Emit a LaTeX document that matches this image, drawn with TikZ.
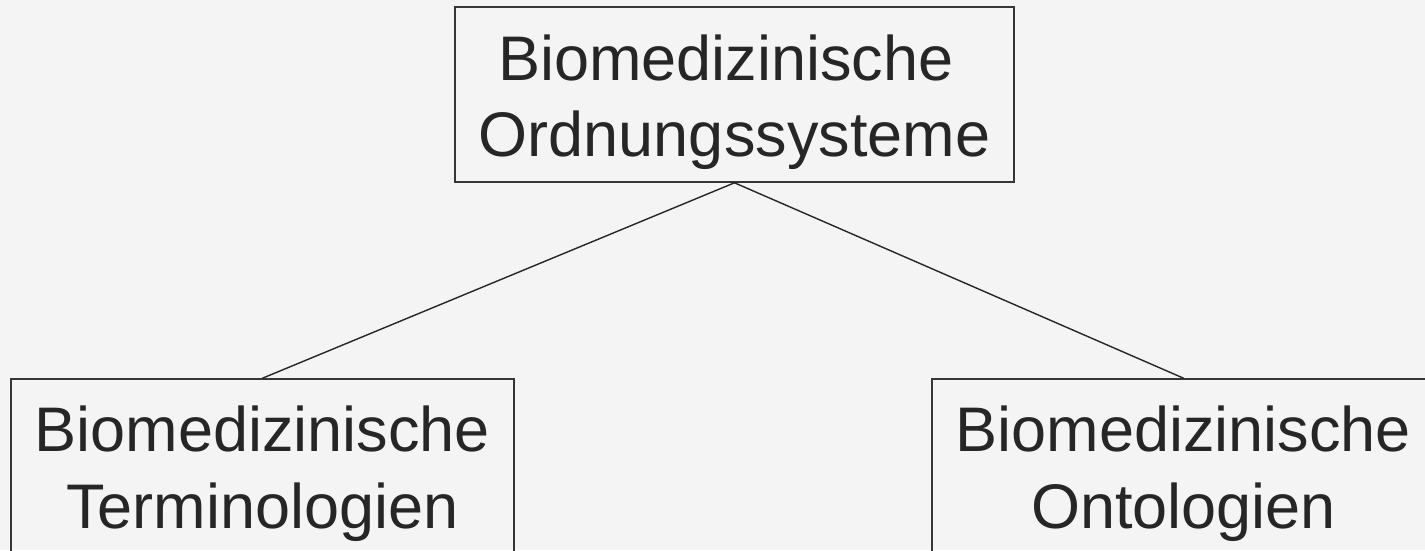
\documentclass[tikz,border=0pt]{standalone}
\usepackage{fontspec}
\setmainfont{Liberation Sans}
\definecolor{bgc}{HTML}{F4F4F4}
\definecolor{ink}{HTML}{262626}
\definecolor{edge}{HTML}{363636}
\begin{document}
\begin{tikzpicture}[x=1pt,y=1pt,
  box/.style={draw=edge, line width=1.6pt, fill=none, minimum width=#1, minimum height=175pt, inner sep=0pt},
  lbl/.style={anchor=base, align=center, inner sep=0pt, text=ink, font=\fontsize{63}{76.5}\selectfont},
  conn/.style={draw=ink, line width=1.4pt}]
\fill[bgc] (0,0) rectangle (1425,550);
\clip (0,0) rectangle (1425,550);
\node[box=559pt] (top) at (734.5,455.5) {};
\node[box=503pt] (left) at (262.5,83.5) {};
\node[box=503pt] (right) at (1183.5,83.5) {};
\node[lbl] (topText) at (734.5,393) {Biomedizinische\hspace*{17pt}\\Ordnungssysteme};
\node[lbl] (leftText) at (262.5,22) {Biomedizinische\\Terminologien};
\node[lbl] (rightText) at (1183.5,22) {Biomedizinische\\Ontologien};
\draw[conn] (top.south) -- (left.north);
\draw[conn] (top.south) -- (right.north);
\end{tikzpicture}
\end{document}
